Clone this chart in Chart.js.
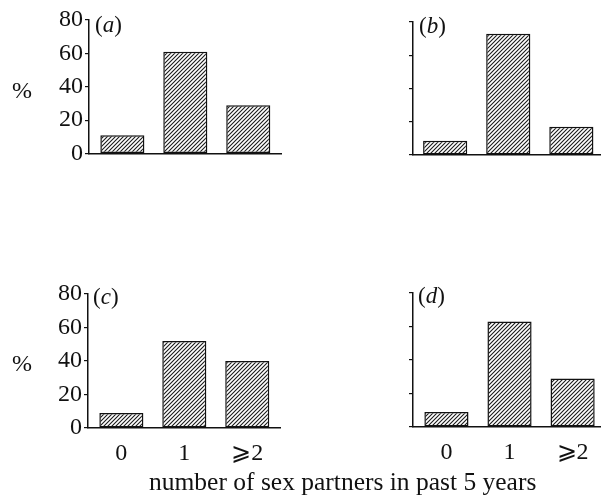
<!DOCTYPE html>
<html>
<head>
<meta charset="utf-8">
<script src="https://cdn.jsdelivr.net/npm/chart.js@4/dist/chart.umd.min.js"></script>
<style>
  html, body { margin: 0; padding: 0; background: #fff; }
  body { width: 601px; height: 499px; position: relative; overflow: hidden; font-family: "Liberation Serif", "DejaVu Serif", serif; color: #111; }
  .pane { position: absolute; }
  .lbl { position: absolute; font-size: 23px; line-height: 1; white-space: nowrap; }
  .it { font-style: italic; }
</style>
</head>
<body>
<div class="pane" style="left:0;top:0;width:300px;height:170px"><canvas id="ca"></canvas></div>
<div class="pane" style="left:300px;top:0;width:301px;height:170px"><canvas id="cb"></canvas></div>
<div class="pane" style="left:0;top:270px;width:300px;height:200px"><canvas id="cc"></canvas></div>
<div class="pane" style="left:300px;top:270px;width:301px;height:200px"><canvas id="cd"></canvas></div>

<div class="lbl" style="left:12px;top:78px;font-size:24px">%</div>
<div class="lbl" style="left:12px;top:351px;font-size:24px">%</div>
<div class="lbl" style="left:95px;top:13px">(<span class="it">a</span>)</div>
<div class="lbl" style="left:419px;top:14px">(<span class="it">b</span>)</div>
<div class="lbl" style="left:93px;top:285px">(<span class="it">c</span>)</div>
<div class="lbl" style="left:418px;top:284px">(<span class="it">d</span>)</div>
<div class="lbl" style="left:149px;top:469px;font-size:25.5px">number of sex partners in past 5 years</div>

<script>
const categories = ["0", "1", "\u2A7E2"];
const panelA = [11, 61, 29];
const panelB = [8.5, 73, 17];
const panelC = [9, 52, 40];
const panelD = [9, 63, 29];
const yTicks = [0, 20, 40, 60, 80];

function hatch() {
  const c = document.createElement('canvas');
  c.width = 4; c.height = 4;
  const g = c.getContext('2d');
  g.fillStyle = '#fff';
  g.fillRect(0, 0, 4, 4);
  g.strokeStyle = '#1a1a1a';
  g.lineWidth = 1.1;
  g.beginPath();
  g.moveTo(-1, 5); g.lineTo(5, -1);
  g.moveTo(-1, 1); g.lineTo(1, -1);
  g.moveTo(3, 5); g.lineTo(5, 3);
  g.stroke();
  return g.createPattern(c, 'repeat');
}

const serif = '"Liberation Serif", "DejaVu Serif", serif';

function make(id, data, opt) {
  const ctx = document.getElementById(id).getContext('2d');
  return new Chart(ctx, {
    type: 'bar',
    data: {
      labels: categories,
      datasets: [{
        data: data,
        backgroundColor: hatch(),
        borderColor: '#111',
        borderWidth: 1.5,
        borderSkipped: false,
        categoryPercentage: 1.0,
        barPercentage: 0.7
      }]
    },
    options: {
      responsive: true,
      maintainAspectRatio: false,
      animation: false,
      events: [],
      layout: { padding: { top: opt.top, bottom: 0, left: 0, right: opt.right } },
      plugins: { legend: { display: false }, tooltip: { enabled: false }, title: { display: false } },
      scales: {
        x: {
          offset: true,
          grid: { display: false, drawTicks: false },
          border: { display: true, color: '#111', width: 1.5 },
          ticks: {
            display: opt.xLabels,
            color: '#111',
            padding: 11,
            font: { family: serif, size: 24 }
          },
          afterBuildTicks: s => { s._startValue = opt.start; s._valueRange = opt.range; },
          afterFit: s => { s.height = opt.xh; }
        },
        y: {
          min: 0, max: 80,
          afterBuildTicks: s => { s.ticks = yTicks.map(v => ({ value: v })); },
          grid: { drawOnChartArea: false, drawTicks: true, tickLength: 4, color: '#111', lineWidth: 1.2 },
          border: { display: true, color: '#111', width: 1.5 },
          ticks: {
            display: opt.yLabels,
            color: '#111',
            padding: 2,
            font: { family: serif, size: 24 }
          },
          afterFit: s => { s.width = opt.yw; }
        }
      }
    }
  });
}

make('ca', panelA, { top: 20, right: 19, xh: 16, yw: 89, start: -0.53, range: 3.05, xLabels: false, yLabels: true });
make('cb', panelB, { top: 22, right: 0, xh: 15, yw: 113, start: -0.51, range: 2.98, xLabels: false, yLabels: false });
make('cc', panelC, { top: 24, right: 20, xh: 42, yw: 88, start: -0.53, range: 3.05, xLabels: true, yLabels: true });
make('cd', panelD, { top: 23, right: 0, xh: 43, yw: 113, start: -0.53, range: 2.98, xLabels: true, yLabels: false });
</script>
</body>
</html>
